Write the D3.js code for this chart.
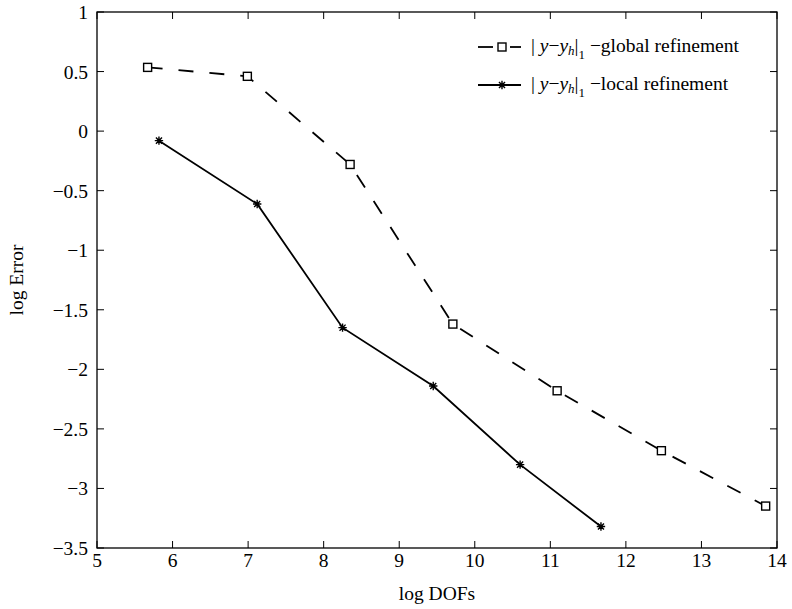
<!DOCTYPE html>
<html><head><meta charset="utf-8">
<script src="https://cdn.jsdelivr.net/npm/d3@7"></script>
<style>body{margin:0;background:#fff}svg{display:block}text{font-family:"Liberation Serif","Times New Roman",serif;fill:#000}</style>
</head><body><svg id="c" width="792" height="609"></svg>
<script>
const xTicks=[5,6,7,8,9,10,11,12,13,14];
const yTicks=[1,0.5,0,-0.5,-1,-1.5,-2,-2.5,-3,-3.5];
const globalX=[5.67,6.99,8.35,9.71,11.09,12.47,13.85];
const globalY=[0.535,0.46,-0.28,-1.62,-2.18,-2.683,-3.148];
const localX=[5.82,7.12,8.25,9.45,10.6,11.67];
const localY=[-0.08,-0.612,-1.65,-2.14,-2.8,-3.32];
const seriesNames=["global refinement","local refinement"];

const svg=d3.select("#c");
const L=97,R=777,T=12,B=548;
const x=d3.scaleLinear().domain([5,14]).range([L,R]);
const y=d3.scaleLinear().domain([-3.5,1]).range([B,T]);
const fmt=d=>(d<0?"\u2212":"")+Math.abs(d);
const tl=7, fs=19.5;
svg.append("rect").attr("x",L).attr("y",T).attr("width",R-L).attr("height",B-T).attr("fill","none").attr("stroke","#000").attr("stroke-width",1.3);
const gx=svg.append("g");
xTicks.forEach(t=>{
  gx.append("line").attr("x1",x(t)).attr("x2",x(t)).attr("y1",B).attr("y2",B-tl).attr("stroke","#000");
  gx.append("line").attr("x1",x(t)).attr("x2",x(t)).attr("y1",T).attr("y2",T+tl).attr("stroke","#000");
  gx.append("text").attr("x",x(t)).attr("y",B+19).attr("text-anchor","middle").attr("font-size",fs).text(fmt(t));
});
yTicks.forEach(t=>{
  gx.append("line").attr("x1",L).attr("x2",L+tl).attr("y1",y(t)).attr("y2",y(t)).attr("stroke","#000");
  gx.append("line").attr("x1",R).attr("x2",R-tl).attr("y1",y(t)).attr("y2",y(t)).attr("stroke","#000");
  gx.append("text").attr("x",L-9).attr("y",y(t)+7).attr("text-anchor","end").attr("font-size",fs).text(fmt(t));
});
svg.append("text").attr("x",(L+R)/2).attr("y",600).attr("text-anchor","middle").attr("font-size",fs).text("log DOFs");
svg.append("text").attr("transform",`translate(23,${(T+B)/2}) rotate(-90)`).attr("text-anchor","middle").attr("font-size",fs).text("log Error");

const line=d3.line().x(d=>x(d[0])).y(d=>y(d[1]));
const gData=globalX.map((v,i)=>[v,globalY[i]]);
const lData=localX.map((v,i)=>[v,localY[i]]);
svg.append("path").attr("d",line(gData)).attr("fill","none").attr("stroke","#000").attr("stroke-width",1.8).attr("stroke-dasharray","15,16");
svg.append("path").attr("d",line(lData)).attr("fill","none").attr("stroke","#000").attr("stroke-width",1.8);
function square(g,cx,cy){g.append("rect").attr("x",cx-4).attr("y",cy-4).attr("width",8).attr("height",8).attr("fill","#fff").attr("stroke","#000").attr("stroke-width",1.4);}
function star(g,cx,cy){const s=4.2;g.append("path").attr("d",`M${cx-s},${cy}H${cx+s}M${cx},${cy-s}V${cy+s}M${cx-s*0.72},${cy-s*0.72}L${cx+s*0.72},${cy+s*0.72}M${cx-s*0.72},${cy+s*0.72}L${cx+s*0.72},${cy-s*0.72}`).attr("stroke","#000").attr("stroke-width",1.4);}
gData.forEach(d=>square(svg,x(d[0]),y(d[1])));
lData.forEach(d=>star(svg,x(d[0]),y(d[1])));

// legend
const rows=[{y:47,dash:true},{y:85,dash:false}];
rows.forEach((r,i)=>{
  const g=svg.append("g");
  if(r.dash){
    g.append("line").attr("x1",478).attr("x2",493).attr("y1",r.y).attr("y2",r.y).attr("stroke","#000").attr("stroke-width",1.8);
    g.append("line").attr("x1",510).attr("x2",521).attr("y1",r.y).attr("y2",r.y).attr("stroke","#000").attr("stroke-width",1.8);
    square(g,502,r.y);
  } else {
    g.append("line").attr("x1",478).attr("x2",521).attr("y1",r.y).attr("y2",r.y).attr("stroke","#000").attr("stroke-width",1.8);
    star(g,502,r.y);
  }
  const t=g.append("text").attr("x",531).attr("y",r.y+5).attr("font-size",fs);
  t.append("tspan").text("| ");
  t.append("tspan").attr("font-style","italic").text("y");
  t.append("tspan").text("\u2212");
  t.append("tspan").attr("font-style","italic").text("y");
  t.append("tspan").attr("font-style","italic").attr("font-size",13).attr("dy",3).text("h");
  t.append("tspan").attr("dy",-3).text("|");
  t.append("tspan").attr("font-size",13).attr("dy",7).text("1");
  t.append("tspan").attr("dy",-7).text("  \u2212"+seriesNames[i]);
});
</script></body></html>
